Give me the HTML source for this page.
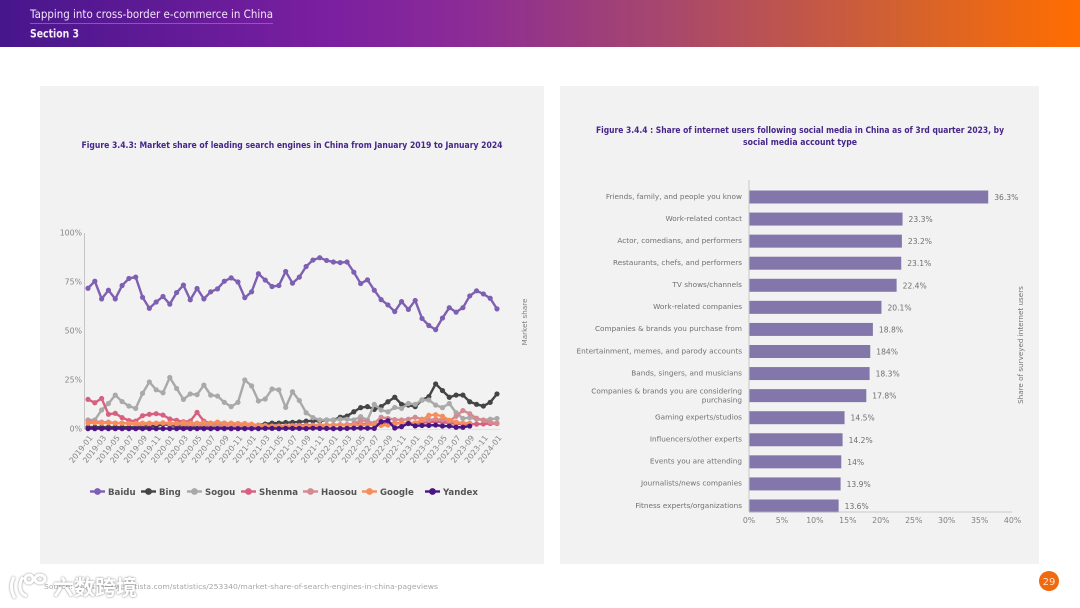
<!DOCTYPE html>
<html lang="en">
<head>
<meta charset="utf-8">
<title>Tapping into cross-border e-commerce in China</title>
<style>
html,body{margin:0;padding:0;background:#fff;width:1080px;height:608px;overflow:hidden}
svg{display:block;font-family:"DejaVu Sans","Liberation Sans","Noto Sans CJK SC",sans-serif;filter:blur(0.3px)}
</style>
</head>
<body>
<svg id="slide" xmlns="http://www.w3.org/2000/svg" width="1080" height="608" viewBox="0 0 1080 608">
  <defs>
    <linearGradient id="hdr" x1="0" x2="1" y1="0" y2="0">
      <stop offset="0" stop-color="#47168c"/>
      <stop offset="0.3" stop-color="#7a1fa0"/>
      <stop offset="0.42" stop-color="#8a2a98"/>
      <stop offset="0.62" stop-color="#a8486c"/>
      <stop offset="0.84" stop-color="#d4622e"/>
      <stop offset="1" stop-color="#ff6d00"/>
    </linearGradient>
  </defs>
  <rect width="1080" height="608" fill="#ffffff"/>
  <rect width="1080" height="47" fill="url(#hdr)"/>
  <text x="30" y="18" font-size="11.5" fill="#f3e6fb" textLength="243" lengthAdjust="spacingAndGlyphs">Tapping into cross-border e-commerce in China</text>
  <line x1="30" x2="273" y1="23.5" y2="23.5" stroke="#a266c8" stroke-width="0.7"/>
  <text x="30" y="37.5" font-size="11.5" font-weight="bold" fill="#f6ecfc" textLength="49" lengthAdjust="spacingAndGlyphs">Section 3</text>

  <rect x="40" y="86" width="504" height="478" fill="#f2f2f3"/>
  <rect x="560" y="86" width="479" height="478" fill="#f2f2f3"/>

  <text x="292" y="148" text-anchor="middle" font-size="8.6" font-weight="bold" fill="#47268a" textLength="421" lengthAdjust="spacingAndGlyphs">Figure 3.4.3: Market share of leading search engines in China from January 2019 to January 2024</text>
  <text x="800" y="133" text-anchor="middle" font-size="8.6" font-weight="bold" fill="#47268a" textLength="408" lengthAdjust="spacingAndGlyphs">Figure 3.4.4 : Share of internet users following social media in China as of 3rd quarter 2023, by</text>
  <text x="800" y="145" text-anchor="middle" font-size="8.6" font-weight="bold" fill="#47268a" textLength="114" lengthAdjust="spacingAndGlyphs">social media account type</text>

  <g id="line-chart"></g>
  <g id="bar-chart"></g>

  <text x="44" y="589" font-size="7" fill="#a6a6a6" textLength="394" lengthAdjust="spacingAndGlyphs">Source: https://www.statista.com/statistics/253340/market-share-of-search-engines-in-china-pageviews</text>

  <g>
    <path d="M14 577 C10 584 11 592 15 598 M23 577 C18 584 19 594 27 596 M25 579 a4 4 0 1 0 8 0 a4 4 0 1 0 -8 0 M35 579 a5 4 0 1 0 10 0 a5 4 0 1 0 -10 0" fill="none" stroke="#ffffff" stroke-width="3" style="filter:drop-shadow(0 0 1px #8a8a8a)"/>
    <text x="53" y="595" font-size="21" font-weight="bold" fill="#ffffff" style="font-family:'Noto Sans CJK SC',sans-serif;filter:drop-shadow(0 0 1px #808080)">六数跨境</text>
  </g>

  <circle cx="1049" cy="581" r="10" fill="#f0690f"/>
  <text x="1049" y="585" text-anchor="middle" font-size="10" fill="#fde6d0">29</text>
</svg>

<script>
// ---------- Line chart data (market share, percent) ----------
var monthCount = 61;
var lineTickLabels = ["2019-01","2019-03","2019-05","2019-07","2019-09","2019-11","2020-01","2020-03","2020-05","2020-07","2020-09","2020-11","2021-01","2021-03","2021-05","2021-07","2021-09","2021-11","2022-01","2022-03","2022-05","2022-07","2022-09","2022-11","2023-01","2023-03","2023-05","2023-07","2023-09","2023-11","2024-01"];
var yTickValues = [0,25,50,75,100];
var seriesNames = ["Baidu","Bing","Sogou","Shenma","Haosou","Google","Yandex"];
var baiduValues = [71.8,75.4,66.4,70.8,66.4,73.2,76.8,77.5,67.2,61.6,64.8,67.6,63.7,69.6,73.4,65.9,71.7,66.4,70,71.5,75.4,77.1,75,67,70,79.2,76,72.7,73.2,80.4,74.4,77.5,82.9,86.2,87.4,86,85.2,84.9,85.2,80,74.2,76.1,70.8,66,63.3,59.9,65,61,65.6,56.4,52.8,50.7,56.6,61.9,59.6,61.9,67.9,70.5,68.9,66.7,61.3];
var bingValues = [1,1,1,1,1,1,1,1,1.2,1.5,1.5,2.5,2,1.5,1.2,1,1,1,1,1,1,1.2,1.2,1.5,1.5,2,2.5,3,3,3.3,3.4,3.6,4,4.2,4,4.6,4.6,6,6.6,8.8,10.9,11.4,10,11.4,13.9,16.2,12.6,12.2,11.4,14.8,16.5,23,19.6,16.2,17.3,17.3,13.9,12.6,11.7,13.6,17.9];
var sogouValues = [4.6,4.6,9.7,13,17.3,14,11.7,10.5,18.2,24,20,18.5,26.3,20.7,15.1,17.9,17.5,22.4,17.3,16.8,13.6,11.4,13.6,25,22,14.3,15.3,20.4,20,11,19,14.5,8.3,5.8,4.6,4.6,4.6,5,5,4.6,6.3,4.6,12.6,9.7,8.8,11,10.5,13,12.6,14.8,14.8,12.2,10.9,13,8.3,5.4,5.8,5,4.6,5,5.4];
var shenmaValues = [15.1,13.4,15.6,7.5,8,5.8,4.3,4,6.8,7.5,7.8,7.1,5.1,4.4,3.7,4,8.5,4,2.9,3,3,2.8,2.5,2.5,2,1.5,1.5,1.5,1.5,1.5,1.8,1.8,2,2,2,2,2,2.2,2.2,2.5,2.5,2.5,2.5,2.8,2.8,3,3,3,3,3.2,3.5,3.8,3.5,3,2.8,2.5,2.5,2.5,2.6,2.8,2.8];
var haosouValues = [4.2,3.8,3.5,3.5,3,3,2.8,2.5,2.5,2.5,2.8,3,2.5,2.5,2.2,2,2,2,1.8,1.8,1.8,1.5,1.5,1.5,1.5,1.2,1.2,1.2,1.2,1.2,1.2,1.2,1.2,1.5,1.5,1.8,2,2.2,2.2,2.5,4.5,3.8,3,6,5.4,4.8,4.6,5,6,5,4.6,5,4.8,4,6.5,9.4,7.8,5.5,4.5,3.5,3];
var googleValues = [3,3.2,3,3.2,3,3,2.8,2.8,3,3,3,3.2,3,2.8,3.2,3,3,3.2,3,3.5,3,3,2.8,2.8,2.5,2,1.8,1.5,1.5,1.5,1.5,1.5,1.5,1.8,2,2,2,2,1.8,2,2,2,2.2,1.8,2,2.5,3,3,3.2,4.5,7,7.3,6.5,4.5,3.5,3,3];
var yandexValues = [0.2,0.2,0.2,0.2,0.2,0.2,0.2,0.2,0.2,0.2,0.2,0.2,0.2,0.2,0.2,0.2,0.2,0.2,0.2,0.2,0.2,0.2,0.2,0.2,0.2,0.2,0.3,0.3,0.2,0.3,0.3,0.3,0.2,0.4,0.3,0.3,0.2,0.2,0.3,0.4,0.5,0.4,0.3,3.7,4.2,0.5,1.2,2.8,1.6,1.8,1.8,2,1.5,1.5,0.9,0.9,1.5];
var seriesValues = [baiduValues,bingValues,sogouValues,shenmaValues,haosouValues,googleValues,yandexValues];
var seriesColors = ["#7e5fb2","#444444","#a9a9a9","#d8607f","#d48a90","#f68e5c","#4a1580"];

// ---------- Bar chart data ----------
var barCategories = ["Friends, family, and people you know","Work-related contact","Actor, comedians, and performers","Restaurants, chefs, and performers","TV shows/channels","Work-related companies","Companies & brands you purchase from","Entertainment, memes, and parody accounts","Bands, singers, and musicians","Companies & brands you are considering\npurchasing","Gaming experts/studios","Influencers/other experts","Events you are attending","Journalists/news companies","Fitness experts/organizations"];
var barValues = [36.3,23.3,23.2,23.1,22.4,20.1,18.8,18.4,18.3,17.8,14.5,14.2,14,13.9,13.6];
var barPrinted = ["36.3%","23.3%","23.2%","23.1%","22.4%","20.1%","18.8%","184%","18.3%","17.8%","14.5%","14.2%","14%","13.9%","13.6%"];
var barTicks = [0,5,10,15,20,25,30,35,40];

var NS = "http://www.w3.org/2000/svg";
function mk(parent, tag, attrs, txt) {
  var n = document.createElementNS(NS, tag);
  for (var k in attrs) n.setAttribute(k, attrs[k]);
  if (txt !== undefined) n.textContent = txt;
  parent.appendChild(n);
  return n;
}
function slug(s) { return s.toLowerCase().replace(/[^a-z0-9]+/g, "-").replace(/^-|-$/g, ""); }

// ---------- Line chart ----------
(function () {
  var root = document.getElementById("line-chart");
  var x = function (i) { return 88 + (497 - 88) * i / (monthCount - 1); };
  var y = function (v) { return 429 - 1.96 * v; };
  var el;

  el = mk(root, "line", {x1: 84.5, x2: 84.5, y1: y(100), y2: y(0), stroke: "#c4c4c4", "stroke-width": 1});
  
  
  el = mk(root, "line", {x1: 84.5, x2: 500, y1: y(0) + 0.5, y2: y(0) + 0.5, stroke: "#dcdcdc", "stroke-width": 0.7});
  
  

  yTickValues.forEach(function (t) {
    var lab = mk(root, "text", {x: 82, y: y(t) + 2.5, "text-anchor": "end", "font-size": 7.8, fill: "#858585"}, t + "%");
    
    
  });

  lineTickLabels.forEach(function (t, idx) {
    var px = x(idx * 2) + 5, py = 438;
    var lab = mk(root, "text", {x: px, y: py, "text-anchor": "end", "font-size": 7.8, fill: "#858585", transform: "rotate(-52 " + px + " " + py + ")"}, t);
    
    
  });

  var yTitle = mk(root, "text", {x: 527, y: 322, "text-anchor": "middle", "font-size": 7.2, fill: "#808080", transform: "rotate(-90 527 322)"}, "Market share");
  
  

  seriesValues.forEach(function (vals, s) {
    var g = mk(root, "g", {});
    
    
    var pts = vals.map(function (v, i) { return x(i).toFixed(2) + "," + y(v).toFixed(2); }).join(" ");
    var pl = mk(g, "polyline", {points: pts, fill: "none", stroke: seriesColors[s], "stroke-width": 2.4, "stroke-linejoin": "round"});
    
    
    vals.forEach(function (v, i) {
      var c = mk(g, "circle", {cx: x(i), cy: y(v), r: 2.6, fill: seriesColors[s]});
      
      
    });
  });

  var legendStarts = [90, 141, 187, 241, 303, 362, 425];
  seriesNames.forEach(function (nm, s) {
    var g = mk(root, "g", {});
    
    
    var lx = legendStarts[s];
    mk(g, "line", {x1: lx, x2: lx + 15, y1: 491.5, y2: 491.5, stroke: seriesColors[s], "stroke-width": 2.4});
    mk(g, "circle", {cx: lx + 7.5, cy: 491.5, r: 3.4, fill: seriesColors[s]});
    var t = mk(g, "text", {x: lx + 18, y: 495, "font-size": 8.6, "font-weight": "bold", fill: "#555555"}, nm);
    
    
  });
})();

// ---------- Bar chart ----------
(function () {
  var root = document.getElementById("bar-chart");
  var x = function (v) { return 749 + 6.59 * v; };
  var y = function (i) { return 197 + 22.07 * i; };
  var el;

  barValues.forEach(function (v, i) {
    var r = mk(root, "rect", {x: x(0), y: y(i) - 6.5, width: x(v) - x(0), height: 13, fill: "#8376ab"});
    
    
    var vl = mk(root, "text", {x: x(v) + 6, y: y(i) + 3, "font-size": 7.6, fill: "#6f6f6f"}, barPrinted[i]);
    
    
    var parts = barCategories[i].split("\n");
    parts.forEach(function (p, k) {
      var cy = parts.length > 1 ? y(i) + 2.5 + (k - 0.5) * 9 : y(i) + 1.8;
      var cl = mk(root, "text", {x: 742, y: cy, "text-anchor": "end", "font-size": 7.3, fill: "#707070"}, p);
      
      
    });
  });

  el = mk(root, "line", {x1: 749, x2: 749, y1: 180, y2: 512, stroke: "#c8c8c8", "stroke-width": 1});
  
  
  el = mk(root, "line", {x1: 749, x2: 1012, y1: 512, y2: 512, stroke: "#bdbdbd", "stroke-width": 0.8});
  
  

  barTicks.forEach(function (t) {
    var lab = mk(root, "text", {x: x(t), y: 523, "text-anchor": "middle", "font-size": 7.8, fill: "#808080"}, t + "%");
    
    
  });

  var yt = mk(root, "text", {x: 1023, y: 345, "text-anchor": "middle", "font-size": 7.2, fill: "#757575", transform: "rotate(-90 1023 345)"}, "Share of surveyed internet users");
  
  
})();
</script>
</body>
</html>
